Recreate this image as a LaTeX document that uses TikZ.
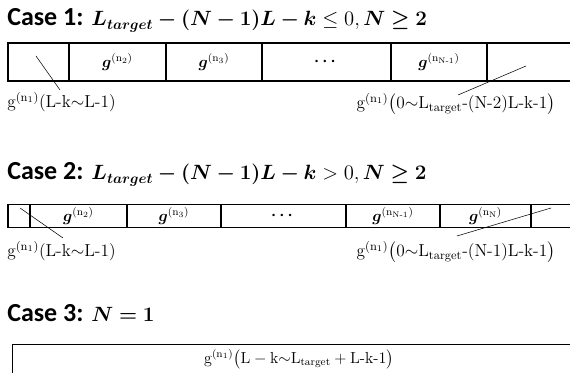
\RequirePackage{fix-cm}
\documentclass[tikz,border=0pt]{standalone}
\usepackage{amsmath,amssymb,bm}
\usepackage{fontspec}
\newfontfamily\casefont{Carlito}
\usetikzlibrary{positioning}
\newcommand{\casemath}[1]{{\fontsize{15.5}{18}\selectfont$#1$}}

\begin{document}
\begin{tikzpicture}[x=0.75pt,y=-0.75pt,
    cell/.style={rectangle,draw,thick,minimum height=28.5pt,inner sep=0pt,font=\large},
    cellb/.style={cell,minimum height=17pt},
    title/.style={anchor=base west,inner sep=0pt,font=\casefont\fontsize{19.5}{21}\selectfont\bfseries},
    note/.style={inner sep=0pt,font=\fontsize{13}{15}\selectfont},
    pointer/.style={thin}]
\useasboundingbox (0,0) rectangle (570,373);
\clip (0,0) rectangle (570,373);

% Case 1
\node[title] (t1) at (7,26) {Case 1: \casemath{\bm{L_{target}-(N-1)L-k}\le 0,\bm{N\ge 2}}};
\node[cell,minimum width=45.75pt] (a1) at (38.5,62) {};
\node[cell,minimum width=72.75pt] (a2) at (117.5,62) {$\bm{g}^{(\mathrm{n}_2)}$};
\node[cell,minimum width=72pt] (a3) at (214,62) {$\bm{g}^{(\mathrm{n}_3)}$};
\node[cell,minimum width=96.75pt] (a4) at (326.5,62) {$\bm{\cdots}$};
\node[cell,minimum width=72pt] (a5) at (439,62) {$\bm{g}^{(\mathrm{n}_{\mathrm{N\text{-}1}})}$};
\node[cell,minimum width=90pt] (a6) at (547,62) {};
\coordinate (p1) at (36,56);
\coordinate (q1) at (60,90);
\coordinate (p2) at (526,66);
\coordinate (q2) at (458,95);
\draw[pointer] (p1) -- (q1);
\draw[pointer] (p2) -- (q2);
\node[note,anchor=west] (l1) at (7,102) {$\mathrm{g}^{(\mathrm{n}_1)}$(L-k$\sim$L-1)};
\node[note] (r1) at (456,104) {$\mathrm{g}^{(\mathrm{n}_1)}\bigl(0{\sim}\mathrm{L}_{\mathrm{target}}$-(N-2)L-k-1$\bigr)$};

% Case 2
\node[title] (t2) at (7,180) {Case 2: \casemath{\bm{L_{target}-(N-1)L-k}>0,\bm{N\ge 2}}};
\node[cellb,minimum width=16.5pt] (b1) at (19,216) {};
\node[cellb,minimum width=72.75pt] (b2) at (78.5,216) {$\bm{g}^{(\mathrm{n}_2)}$};
\node[cellb,minimum width=70.5pt] (b3) at (174,216) {$\bm{g}^{(\mathrm{n}_3)}$};
\node[cellb,minimum width=93.75pt] (b4) at (283.5,216) {$\bm{\cdots}$};
\node[cellb,minimum width=70.5pt] (b5) at (393,216) {$\bm{g}^{(\mathrm{n}_{\mathrm{N\text{-}1}})}$};
\node[cellb,minimum width=68.25pt] (b6) at (485.5,216) {$\bm{g}^{(\mathrm{n}_{\mathrm{N}})}$};
\node[cellb,minimum width=60pt] (b7) at (571,216) {};
\coordinate (p3) at (20,208);
\coordinate (q3) at (63,238);
\coordinate (p4) at (551,208);
\coordinate (q4) at (457,236);
\draw[pointer] (p3) -- (q3);
\draw[pointer] (p4) -- (q4);
\node[note,anchor=west] (l2) at (7,251) {$\mathrm{g}^{(\mathrm{n}_1)}$(L-k$\sim$L-1)};
\node[note] (r2) at (456,252) {$\mathrm{g}^{(\mathrm{n}_1)}\bigl(0{\sim}\mathrm{L}_{\mathrm{target}}$-(N-1)L-k-1$\bigr)$};

% Case 3
\node[title] (t3) at (7,322) {Case 3: \casemath{\bm{N=1}}};
\node[cell,minimum width=450pt,anchor=north west] (c1) at (12,344) {};
\node[note,font=\fontsize{12}{14}\selectfont] (m3) at (299,359) {$\mathrm{g}^{(\mathrm{n}_1)}\bigl(\mathrm{L}-\mathrm{k}{\sim}\mathrm{L}_{\mathrm{target}}+\mathrm{L}$-k-1$\bigr)$};
\end{tikzpicture}
\end{document}
